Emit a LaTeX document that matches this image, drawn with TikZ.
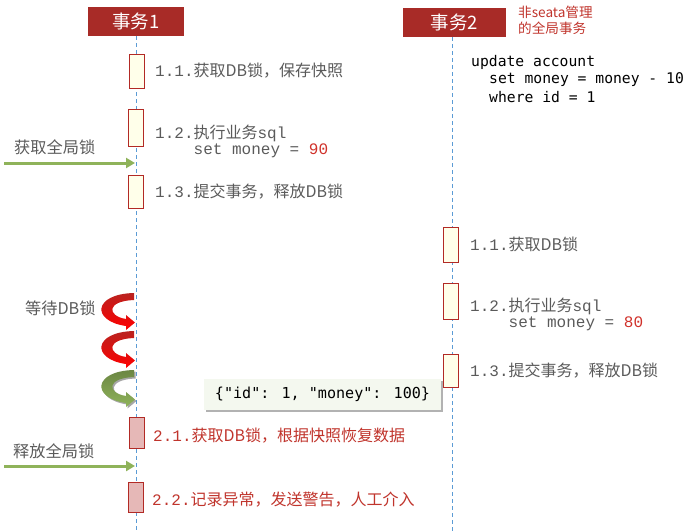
\documentclass[tikz,border=0pt]{standalone}
\usepackage{fontspec}
\setmainfont{Liberation Sans}
\newfontfamily\cjk{Noto Sans CJK SC}
\newfontfamily\mono{Liberation Mono}
\newfontfamily\codef{DejaVu Sans Mono}
\usetikzlibrary{arrows.meta,shadows}
\definecolor{hdr}{HTML}{A82B27}
\definecolor{boxred}{HTML}{B22A25}
\definecolor{boxfill}{HTML}{FFFFEA}
\definecolor{pinkfill}{HTML}{E6B8B7}
\definecolor{txtgray}{HTML}{5A5A5A}
\definecolor{txtred}{HTML}{C0342C}
\definecolor{numred}{HTML}{D0312A}
\definecolor{lifeblue}{HTML}{5B9BD5}
\definecolor{agreen}{HTML}{8FB35A}
\definecolor{jsonfill}{HTML}{F4F8EF}
\tikzset{
  header/.style={fill=hdr, text=white, minimum width=96, minimum height=29, inner sep=0, font=\cjk\fontsize{18.5}{21}\selectfont},
  lifeline/.style={draw=lifeblue, line width=1pt, dash pattern=on 4pt off 3pt},
  actbox/.style={draw=boxred, fill=boxfill, line width=1pt, minimum width=15, inner sep=0},
  pinkbox/.style={draw=boxred, fill=pinkfill, line width=1pt, minimum width=15, inner sep=0},
  steptxt/.style={anchor=west, inner sep=0, text=txtgray, font=\cjk\fontsize{16}{18}\selectfont},
  redtxt/.style={anchor=west, inner sep=0, text=txtred, font=\cjk\fontsize{16}{18}\selectfont},
  codetxt/.style={anchor=west, inner sep=0, text=black, font=\codef\fontsize{14.7}{17}\selectfont},
  sidelbl/.style={anchor=west, inner sep=0, text=txtgray, font=\cjk\fontsize{16.2}{18}\selectfont},
  garrow/.style={draw=agreen, line width=3pt, -{Triangle[length=9pt,width=10pt]}},
}
\newcommand\waitarrow[4]{%
  \begin{scope}[shift={(0,#1)}]
    \path[top color=#2, bottom color=#3, #4]
      (134,0) .. controls (93,1) and (91,28) .. (126,33)
      -- (126,37) -- (135,29.5) -- (126,22) -- (126,26)
      .. controls (107,23) and (106,8) .. (134,7) -- cycle;
  \end{scope}}
\begin{document}
\begin{tikzpicture}[x=1pt,y=-1pt]
\useasboundingbox (0,0) rectangle (698,531);
% headers
\node[header] (h1) at (136,21) {事务1};
\node[header, minimum width=103] (h2) at (454.5,22) {事务2};
\node[anchor=north west, inner sep=0, align=left, text=txtred, font=\cjk\fontsize{13.6}{16}\selectfont] (note) at (518,6) {非seata管理\\的全局事务};
% lifelines
\coordinate (l1top) at (136,36);
\coordinate (l1bot) at (136,531);
\coordinate (l2top) at (452,37);
\coordinate (l2bot) at (452,531);
\draw[lifeline] (l1top) -- (l1bot);
\draw[lifeline] (l2top) -- (l2bot);
% json snapshot
\node[fill=jsonfill, minimum width=237, minimum height=31, inner sep=0,
      drop shadow={shadow xshift=1.5pt, shadow yshift=-2pt, opacity=0.3, fill=black},
      font=\codef\fontsize{15.1}{17}\selectfont] (json) at (322.5,394.5) {\{"id": 1, "money": 100\}};
% code of tx2
\node[codetxt] (c1) at (471,62) {update account};
\node[codetxt] (c2) at (489,79.5) {set money = money - 10};
\node[codetxt] (c3) at (489,97) {where id = 1};
% tx1 activation boxes
\node[actbox, minimum height=34] (a1) at (136.5,71.5) {};
\node[actbox, minimum height=37] (a2) at (136,127.5) {};
\node[actbox, minimum height=33] (a3) at (136,191.5) {};
\node[steptxt] (t11) at (155,71) {{\mono 1.1.}获取DB锁，保存快照};
\node[steptxt] (t12) at (155,133) {{\mono 1.2.}执行业务{\mono sql}};
\node[steptxt] (t12b) at (193.5,151) {{\mono set money = }{\mono\color{numred}90}};
\node[steptxt] (t13) at (155,192) {{\mono 1.3.}提交事务，释放DB锁};
% tx2 activation boxes
\node[actbox, minimum height=35] (b1) at (451,244.5) {};
\node[actbox, minimum height=36] (b2) at (450.5,301) {};
\node[actbox, minimum height=33] (b3) at (450.5,370.5) {};
\node[steptxt] (s11) at (470,244) {{\mono 1.1.}获取DB锁};
\node[steptxt] (s12) at (470,306) {{\mono 1.2.}执行业务{\mono sql}};
\node[steptxt] (s12b) at (508.5,324) {{\mono set money = }{\mono\color{numred}80}};
\node[steptxt] (s13) at (470,371) {{\mono 1.3.}提交事务，释放DB锁};
% global lock arrows
\node[sidelbl] (gl1) at (14,147) {获取全局锁};
\coordinate (g1s) at (4,163);
\coordinate (g1e) at (135,163);
\draw[garrow] (g1s) -- (g1e);
\node[sidelbl] (gl2) at (13,451) {释放全局锁};
\coordinate (g2s) at (4,466);
\coordinate (g2e) at (135,466);
\draw[garrow] (g2s) -- (g2e);
% waiting
\node[sidelbl] (wt) at (25,308) {等待DB锁};
\waitarrow{293}{hdr!80!red}{red}{}
\waitarrow{331}{hdr!80!red}{red}{}
\waitarrow{370}{agreen!75!black}{agreen}{drop shadow={shadow xshift=1.5pt, shadow yshift=-1.5pt, opacity=0.35, fill=black}}
% rollback boxes
\node[pinkbox, minimum height=31] (p1) at (136.5,432.5) {};
\node[pinkbox, minimum height=30] (p2) at (135.5,497) {};
\node[redtxt] (r21) at (153,436) {{\mono 2.1.}获取DB锁，根据快照恢复数据};
\node[redtxt] (r22) at (152,500) {{\mono 2.2.}记录异常，发送警告，人工介入};
\end{tikzpicture}
\end{document}
